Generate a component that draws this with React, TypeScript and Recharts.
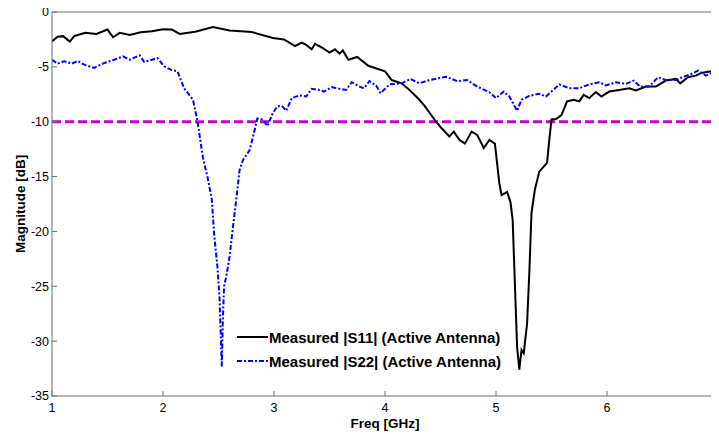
import React from 'react';
import { LineChart, Line, XAxis, YAxis, ReferenceLine, Legend } from 'recharts';

const s11Freq = [1.0, 1.05, 1.1, 1.16, 1.2, 1.3, 1.4, 1.5, 1.55, 1.61, 1.7, 1.8, 1.9, 2.0, 2.08, 2.15, 2.29, 2.45, 2.6, 2.8, 2.99, 3.09, 3.19, 3.25, 3.29, 3.34, 3.37, 3.44, 3.5, 3.55, 3.59, 3.62, 3.67, 3.75, 3.85, 4.0, 4.06, 4.15, 4.22, 4.31, 4.36, 4.46, 4.51, 4.58, 4.62, 4.67, 4.72, 4.78, 4.83, 4.89, 4.94, 4.99, 5.03, 5.05, 5.1, 5.13, 5.15, 5.19, 5.21, 5.23, 5.25, 5.28, 5.3, 5.32, 5.35, 5.39, 5.43, 5.46, 5.48, 5.5, 5.54, 5.59, 5.64, 5.7, 5.75, 5.79, 5.84, 5.9, 5.95, 6.02, 6.11, 6.2, 6.26, 6.35, 6.44, 6.53, 6.62, 6.66, 6.73, 6.8, 6.85, 6.91, 6.99];
const s11Mag = [-2.68, -2.25, -2.2, -2.7, -2.2, -1.9, -2.0, -1.6, -2.3, -1.9, -2.1, -1.85, -1.75, -1.57, -1.6, -2.0, -1.8, -1.37, -1.68, -1.83, -2.37, -2.5, -3.1, -2.8, -3.0, -3.4, -2.9, -3.3, -3.7, -3.4, -3.8, -3.5, -4.35, -4.1, -4.9, -5.4, -6.2, -6.5, -7.1, -8.0, -8.6, -10.0, -10.6, -11.35, -10.9, -11.65, -12.0, -10.9, -11.2, -12.4, -11.65, -12.0, -15.6, -16.7, -16.4, -17.3, -18.95, -30.5, -32.6, -30.8, -31.1, -28.4, -23.8, -18.3, -16.2, -14.55, -14.1, -13.75, -11.65, -9.8, -9.75, -9.4, -8.15, -8.0, -8.15, -7.55, -7.85, -7.3, -7.7, -7.25, -7.1, -6.95, -7.15, -6.8, -6.8, -6.25, -6.1, -6.5, -5.95, -5.8, -5.55, -5.45, -5.3];

const s22Freq = [1.0, 1.05, 1.11, 1.18, 1.23, 1.29, 1.38, 1.47, 1.56, 1.64, 1.7, 1.79, 1.83, 1.9, 1.95, 2.01, 2.08, 2.13, 2.19, 2.27, 2.31, 2.36, 2.4, 2.44, 2.46, 2.49, 2.51, 2.52, 2.53, 2.54, 2.55, 2.57, 2.6, 2.63, 2.66, 2.69, 2.72, 2.78, 2.82, 2.85, 2.9, 2.94, 2.99, 3.03, 3.07, 3.11, 3.16, 3.23, 3.29, 3.34, 3.41, 3.45, 3.52, 3.59, 3.65, 3.7, 3.77, 3.81, 3.86, 3.92, 3.96, 4.04, 4.15, 4.23, 4.31, 4.4, 4.55, 4.65, 4.74, 4.83, 4.94, 5.0, 5.07, 5.12, 5.19, 5.23, 5.3, 5.39, 5.45, 5.5, 5.57, 5.66, 5.75, 5.84, 5.93, 5.99, 6.08, 6.17, 6.24, 6.3, 6.38, 6.46, 6.53, 6.62, 6.69, 6.76, 6.82, 6.89, 6.94, 6.99];
const s22Mag = [-4.35, -4.7, -4.5, -4.7, -4.45, -4.8, -5.1, -4.65, -4.35, -4.05, -4.35, -3.95, -4.55, -4.35, -4.2, -4.95, -5.3, -5.4, -6.95, -8.0, -9.9, -13.3, -15.0, -17.1, -20.2, -23.2, -26.2, -29.3, -32.3, -27.8, -25.0, -24.1, -22.3, -19.6, -17.1, -14.4, -13.5, -12.6, -11.0, -9.7, -9.8, -10.4, -9.2, -8.6, -8.55, -9.0, -7.85, -7.6, -7.7, -7.0, -7.1, -7.25, -6.85, -7.0, -7.1, -6.4, -6.8, -6.95, -6.3, -6.7, -7.4, -6.6, -6.5, -6.1, -6.5, -6.2, -5.9, -6.3, -6.2, -6.8, -7.3, -7.85, -7.25, -7.7, -9.0, -8.0, -7.65, -7.45, -7.7, -7.25, -6.6, -6.95, -6.95, -6.6, -6.4, -6.7, -6.4, -6.55, -6.25, -6.8, -6.8, -5.95, -6.2, -6.2, -5.9, -5.65, -5.35, -5.8, -5.55, -5.7];

const xTicks = [1, 2, 3, 4, 5, 6];
const yTicks = [-35, -30, -25, -20, -15, -10, -5, 0];
const threshold = -10;
const s11Name = 'Measured |S11| (Active Antenna)';
const s22Name = 'Measured |S22| (Active Antenna)';
const xTitle = 'Freq [GHz]';
const yTitle = 'Magnitude [dB]';

const s11Data = s11Freq.map((f, i) => ({ f, v: s11Mag[i] }));
const s22Data = s22Freq.map((f, i) => ({ f, v: s22Mag[i] }));

const FONT = '"Liberation Sans", Arial, sans-serif';
const AXIS = '#6e6e6e';

const LegendContent = () => (
  <div style={{ fontFamily: FONT, fontWeight: 'bold', fontSize: 15, color: '#000' }}>
    <div style={{ display: 'flex', alignItems: 'center', height: 24 }}>
      <svg width={32} height={6}><line x1={0} y1={3} x2={31} y2={3} stroke="#000" strokeWidth={2} /></svg>
      <span style={{ whiteSpace: 'nowrap' }}>{s11Name}</span>
    </div>
    <div style={{ display: 'flex', alignItems: 'center', height: 24 }}>
      <svg width={32} height={6}><line x1={0} y1={3} x2={31} y2={3} stroke="#0000ff" strokeWidth={2} strokeDasharray="5 2 2 2" /></svg>
      <span style={{ whiteSpace: 'nowrap' }}>{s22Name}</span>
    </div>
  </div>
);

const YTitle = (props: any) => {
  const vb = props.viewBox || { x: 0, y: 12, width: 52, height: 384 };
  const cx = 20;
  const cy = vb.y + vb.height / 2;
  return (
    <text x={cx} y={cy} transform={`rotate(-90, ${cx}, ${cy})`} textAnchor="middle" dominantBaseline="central"
      style={{ fontFamily: FONT, fontWeight: 'bold', fontSize: 13.5, fill: '#000' }}>{yTitle}</text>
  );
};

const XTitle = (props: any) => {
  const vb = props.viewBox || { x: 52, y: 396, width: 666, height: 38 };
  const cx = vb.x + vb.width / 2;
  return (
    <text x={cx} y={vb.y + 32} textAnchor="middle"
      style={{ fontFamily: FONT, fontWeight: 'bold', fontSize: 13.5, fill: '#000' }}>{xTitle}</text>
  );
};

const tickStyle = { fontFamily: FONT, fontSize: 12.5, fill: '#000' };

export default function App() {
  return (
    <div style={{ position: 'relative', top: -8, left: -8, width: 719, height: 434 }}>
      <LineChart width={719} height={434} margin={{ top: 8, right: 0, bottom: 0, left: 0 }}>
        <XAxis xAxisId="b" type="number" dataKey="f" domain={[1, 7]} ticks={xTicks} allowDataOverflow
          orientation="bottom" height={38} tickSize={-5} tickMargin={12} stroke={AXIS}
          tick={tickStyle} interval={0} label={<XTitle />} />
        <XAxis xAxisId="t" type="number" dataKey="f" domain={[1, 7]} ticks={xTicks} allowDataOverflow
          orientation="top" height={4} tickSize={-5} tick={false} stroke={AXIS} />
        <YAxis yAxisId="l" type="number" domain={[-35, 0]} ticks={yTicks} allowDataOverflow
          orientation="left" width={52} tickSize={-5} tickMargin={8} stroke={AXIS}
          tick={tickStyle} interval={0} label={<YTitle />} />
        <YAxis yAxisId="r" type="number" domain={[-35, 0]} ticks={yTicks} allowDataOverflow
          orientation="right" width={1} tickSize={-5} tick={false} stroke={AXIS} />
        <ReferenceLine xAxisId="b" yAxisId="l" y={threshold} stroke="#c800c8" strokeWidth={3} strokeDasharray="9 4" />
        <Line xAxisId="b" yAxisId="l" data={s11Data} dataKey="v" type="linear" stroke="#000" strokeWidth={2}
          dot={false} isAnimationActive={false} name={s11Name} />
        <Line xAxisId="b" yAxisId="l" data={s22Data} dataKey="v" type="linear" stroke="#0000ff" strokeWidth={2}
          strokeDasharray="5 2 2 2" dot={false} isAnimationActive={false} name={s22Name} />
        <Legend content={<LegendContent />} layout="vertical" align="center" verticalAlign="middle"
          wrapperStyle={{ position: 'absolute', left: 237, top: 325, width: 'auto' }} />
      </LineChart>
    </div>
  );
}
